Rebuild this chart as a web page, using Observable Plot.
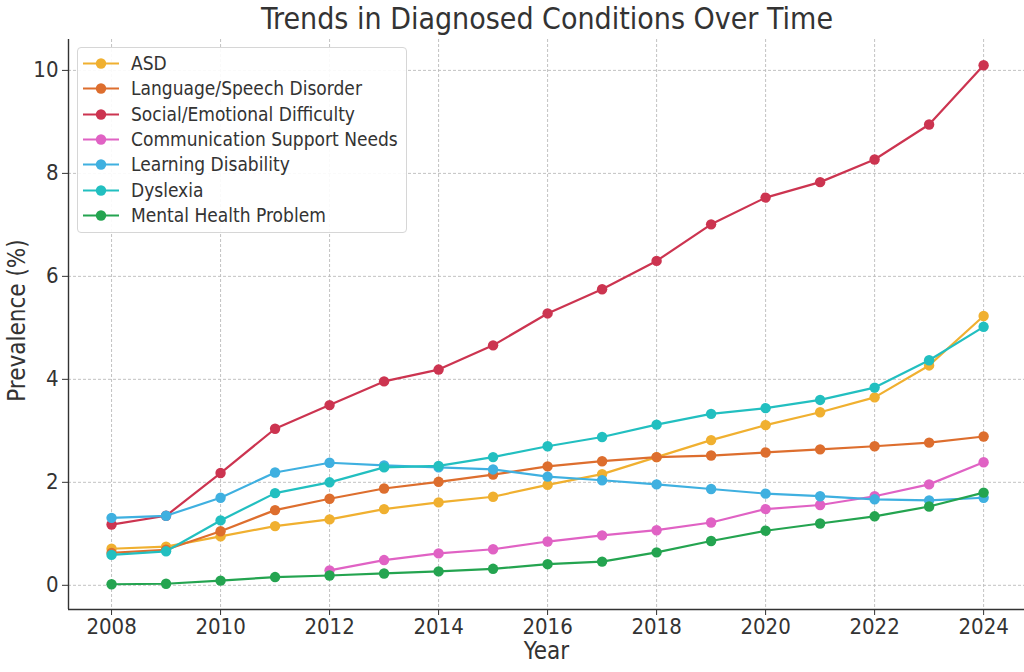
<!DOCTYPE html>
<html><head><meta charset="utf-8">
<script src="https://cdn.jsdelivr.net/npm/d3@7"></script>
<script src="https://cdn.jsdelivr.net/npm/@observablehq/plot@0.6"></script>
<style>
body{margin:0;background:#fff;}
#wrap{position:relative;width:1024px;height:672px;overflow:hidden;background:#fff;font-family:"DejaVu Sans Condensed","DejaVu Sans",sans-serif;font-stretch:condensed;color:#333;}
#title{position:absolute;left:68px;width:958px;top:0;height:38px;line-height:38px;text-align:center;font-size:30px;color:#333;white-space:nowrap;}
#chart{position:absolute;left:0;top:38px;}
#legend{position:absolute;left:77px;top:47px;width:330px;height:186px;box-sizing:border-box;border:1px solid #d6d6d6;border-radius:4px;background:rgba(255,255,255,0.9);}
.row{position:absolute;left:0;height:25px;width:100%;}
.row svg{position:absolute;left:3px;top:0;}
.row span{position:absolute;left:53px;top:0;line-height:25px;font-size:19px;color:#333;white-space:nowrap;}
</style></head>
<body>
<div id="wrap">
  <div id="title">Trends in Diagnosed Conditions Over Time</div>
  <div id="chart"></div>
  <div id="legend"></div>
</div>
<script>
const years = [2008,2009,2010,2011,2012,2013,2014,2015,2016,2017,2018,2019,2020,2021,2022,2023,2024];
const seriesNames = ["ASD","Language/Speech Disorder","Social/Emotional Difficulty","Communication Support Needs","Learning Disability","Dyslexia","Mental Health Problem"];
const seriesColors = ["#f0b030","#dd6e2e","#cc3450","#e062c4","#3fb0e0","#22bfc0","#24a450"];
const asd = [0.71,0.75,0.95,1.15,1.28,1.48,1.61,1.72,1.95,2.16,2.49,2.82,3.11,3.36,3.65,4.27,5.23];
const language = [0.63,0.69,1.05,1.46,1.68,1.88,2.01,2.15,2.31,2.41,2.49,2.52,2.58,2.64,2.70,2.77,2.89];
const social = [1.18,1.35,2.18,3.04,3.50,3.96,4.19,4.66,5.28,5.75,6.30,7.01,7.53,7.83,8.27,8.95,10.10];
const communication = [null,null,null,null,0.29,0.49,0.62,0.70,0.85,0.97,1.07,1.22,1.48,1.56,1.73,1.96,2.39];
const learning = [1.31,1.35,1.70,2.19,2.38,2.33,2.29,2.25,2.11,2.04,1.96,1.87,1.78,1.73,1.67,1.65,1.70];
const dyslexia = [0.59,0.66,1.26,1.79,2.00,2.29,2.32,2.49,2.70,2.88,3.12,3.33,3.44,3.60,3.84,4.37,5.02];
const mental = [0.02,0.03,0.09,0.16,0.19,0.23,0.27,0.32,0.41,0.46,0.64,0.86,1.06,1.20,1.34,1.53,1.80];
const xTicks = [2008,2010,2012,2014,2016,2018,2020,2022,2024];
const yTicks = [0,2,4,6,8,10];

const seriesValues = [asd, language, social, communication, learning, dyslexia, mental];
const xDomain = [2007.21, 2024.75];
const yDomain = [-0.47, 10.6];

const seriesMarks = [];
seriesNames.forEach((name, i) => {
  const rows = years.map((yr, j) => ({year: yr, value: seriesValues[i][j]})).filter(d => d.value != null);
  seriesMarks.push(Plot.line(rows, {x: "year", y: "value", stroke: seriesColors[i], strokeWidth: 2.2}));
  seriesMarks.push(Plot.dot(rows, {x: "year", y: "value", r: 5.2, fill: seriesColors[i], stroke: "none"}));
});

const chart = Plot.plot({
  width: 1024,
  height: 634,
  marginLeft: 68,
  marginRight: 0,
  marginTop: 1,
  marginBottom: 63,
  style: {fontFamily: '"DejaVu Sans Condensed","DejaVu Sans",sans-serif', fontSize: "22px", color: "#333", background: "#fff", fontStretch: "condensed"},
  x: {domain: xDomain, axis: null},
  y: {domain: yDomain, axis: null},
  marks: [
    Plot.ruleX(xTicks, {stroke: "#bbb", strokeWidth: 0.9, strokeDasharray: "3,2"}),
    Plot.ruleY(yTicks, {stroke: "#bbb", strokeWidth: 0.9, strokeDasharray: "3,2"}),
    Plot.axisX({ticks: xTicks, tickFormat: d => String(d), tickSize: 6, tickPadding: 3, fontSize: 22, label: null, stroke: "#333"}),
    Plot.axisY({ticks: yTicks, tickFormat: d => String(d), tickSize: 6, tickPadding: 4, fontSize: 22, label: null, stroke: "#333"}),
    Plot.ruleX([xDomain[0]], {stroke: "#333", strokeWidth: 1.4}),
    Plot.ruleY([yDomain[0]], {stroke: "#333", strokeWidth: 1.4}),
    ...seriesMarks,
    Plot.text(["Year"], {text: d => d, frameAnchor: "bottom", dy: 42, fontSize: 24, lineAnchor: "middle", fill: "#333"}),
    Plot.text(["Prevalence (%)"], {text: d => d, frameAnchor: "left", rotate: -90, dx: -51, dy: -4, textAnchor: "middle", fontSize: 24, lineAnchor: "middle", fill: "#333"})
  ]
});
document.getElementById("chart").appendChild(chart);

const legend = document.getElementById("legend");
seriesNames.forEach((name, i) => {
  const row = document.createElement("div");
  row.className = "row";
  row.style.top = (3 + i * 25.3) + "px";
  const c = seriesColors[i];
  row.innerHTML = `<svg width="40" height="25"><line x1="2" x2="38" y1="12.5" y2="12.5" stroke="${c}" stroke-width="2.2"/><circle cx="20" cy="12.5" r="5.2" fill="${c}"/></svg><span></span>`;
  row.querySelector("span").textContent = name;
  legend.appendChild(row);
});
</script>
</body></html>
